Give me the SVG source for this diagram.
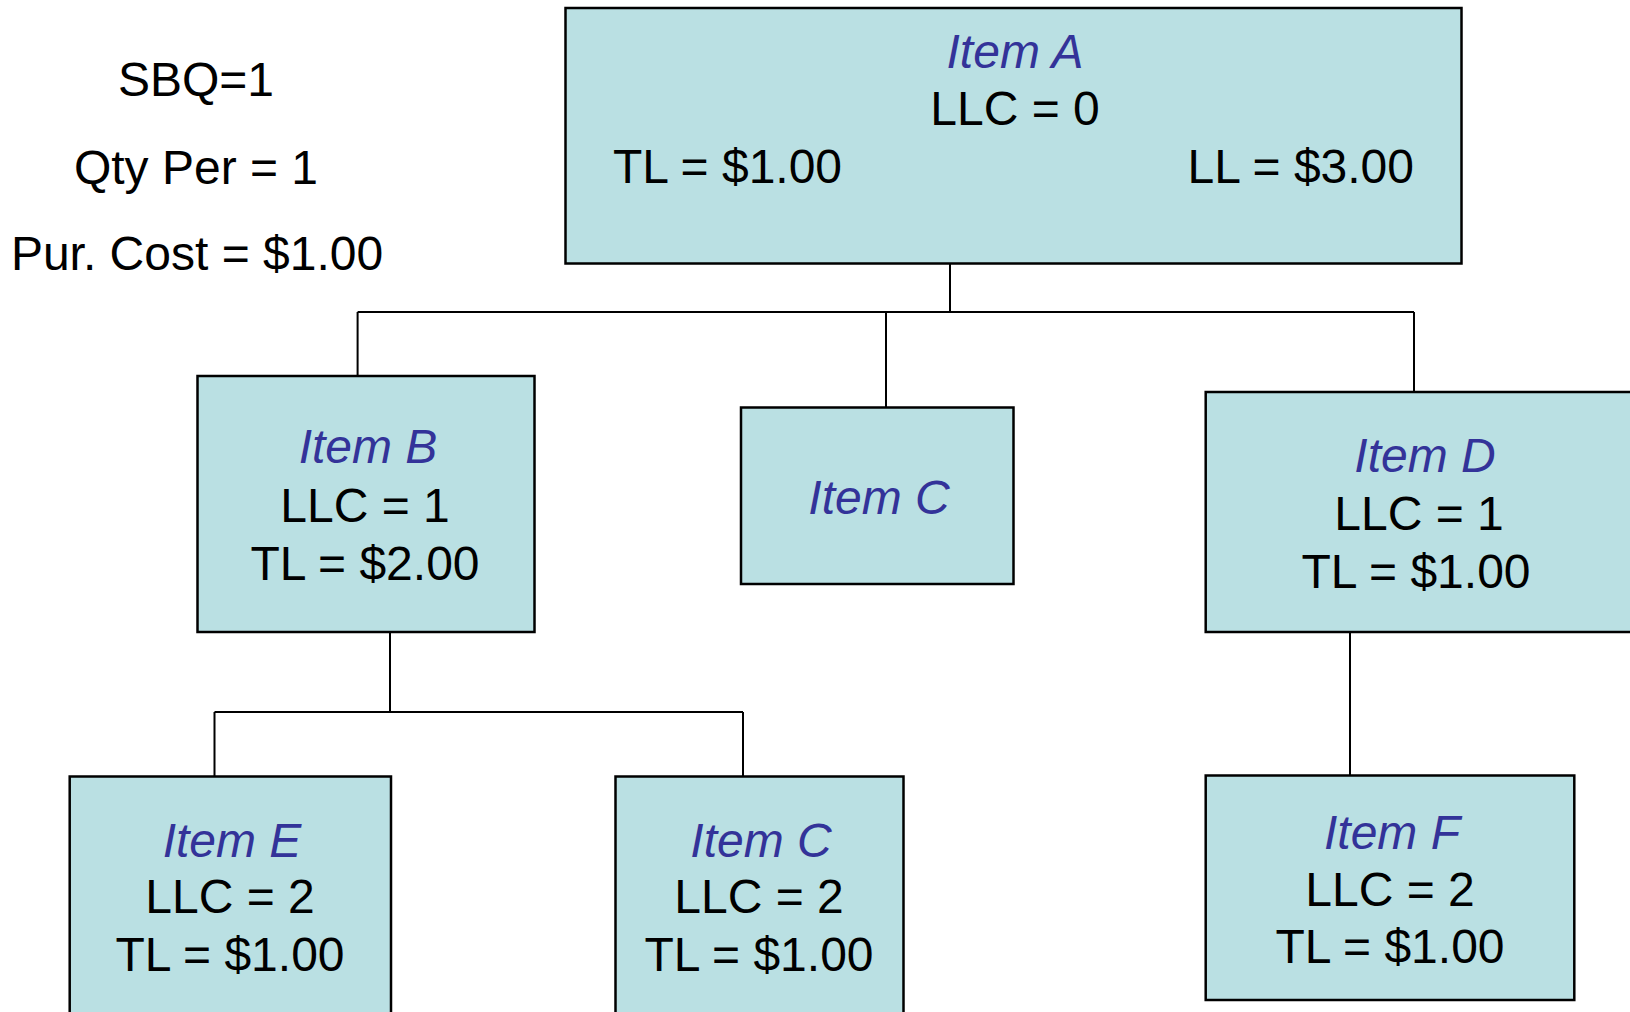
<svg xmlns="http://www.w3.org/2000/svg" width="1630" height="1012" viewBox="0 0 1630 1012">
<style>
.box{fill:#bae0e3;stroke:#000;stroke-width:2.5}
.t{font-family:"Liberation Sans",Arial,sans-serif;font-size:48px;fill:#000;text-anchor:middle}
.h{font-family:"Liberation Sans",Arial,sans-serif;font-size:48px;font-style:italic;fill:#333399;text-anchor:middle}
.c{fill:none;stroke:#000;stroke-width:2}
</style>
<rect width="1630" height="1012" fill="#fff"/>
<g id="notes">
<text class="t" x="196" y="96">SBQ=1</text>
<text class="t" x="196" y="184">Qty Per = 1</text>
<text class="t" x="197" y="270">Pur. Cost = $1.00</text>
</g>
<g id="connectors">
<path class="c" d="M950,264 V312 M357.6,312 H1414 M357.6,312 V376 M886,312 V407.5 M1414,312 V392"/>
<path class="c" d="M390,632 V712 M214.5,712 H743 M214.5,712 V776.5 M743,712 V776.5"/>
<path class="c" d="M1350,632 V775.5"/>
</g>
<g id="itemA">
<rect class="box" x="565.5" y="8" width="896" height="255.5"/>
<text class="h" x="1015" y="68">Item A</text>
<text class="t" x="1015" y="125">LLC = 0</text>
<text class="t" x="613" y="183" style="text-anchor:start">TL = $1.00</text>
<text class="t" x="1414" y="183" style="text-anchor:end">LL = $3.00</text>
</g>
<g id="itemB">
<rect class="box" x="197.5" y="376" width="337" height="256"/>
<text class="h" x="368" y="463">Item B</text>
<text class="t" x="365" y="522">LLC = 1</text>
<text class="t" x="365" y="580">TL = $2.00</text>
</g>
<g id="itemC">
<rect class="box" x="741" y="407.5" width="272.5" height="176.5"/>
<text class="h" x="879" y="514">Item C</text>
</g>
<g id="itemD">
<rect class="box" x="1205.7" y="392" width="438" height="240"/>
<text class="h" x="1425" y="472">Item D</text>
<text class="t" x="1419" y="530">LLC = 1</text>
<text class="t" x="1416" y="588">TL = $1.00</text>
</g>
<g id="itemE">
<rect class="box" x="69.7" y="776.5" width="321.3" height="250"/>
<text class="h" x="232" y="857">Item E</text>
<text class="t" x="230" y="913">LLC = 2</text>
<text class="t" x="230" y="971">TL = $1.00</text>
</g>
<g id="itemC2">
<rect class="box" x="615.5" y="776.5" width="288" height="250"/>
<text class="h" x="761" y="857">Item C</text>
<text class="t" x="759" y="913">LLC = 2</text>
<text class="t" x="759" y="971">TL = $1.00</text>
</g>
<g id="itemF">
<rect class="box" x="1205.7" y="775.5" width="368.6" height="224.5"/>
<text class="h" x="1392" y="849">Item F</text>
<text class="t" x="1390" y="906">LLC = 2</text>
<text class="t" x="1390" y="963">TL = $1.00</text>
</g>
</svg>
